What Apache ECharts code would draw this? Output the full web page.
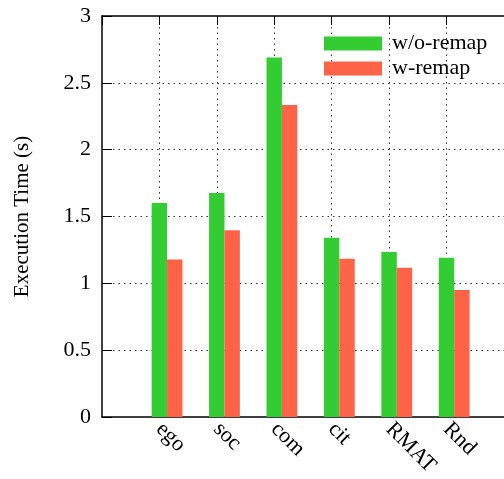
<!DOCTYPE html>
<html><head><meta charset="utf-8">
<script src="https://cdn.jsdelivr.net/npm/echarts@6/dist/echarts.min.js"></script>
<style>html,body{margin:0;padding:0;background:#fff;overflow:hidden;width:504px;height:479px}#c{width:540px;height:479px}</style>
</head><body><div id="c"></div>
<script>
var categories = ['ego', 'soc', 'com', 'cit', 'RMAT', 'Rnd'];
var woRemap = [1.60, 1.675, 2.69, 1.34, 1.233, 1.19];
var wRemap = [1.178, 1.396, 2.334, 1.183, 1.116, 0.95];
var seriesNames = ['w/o-remap', 'w-remap'];
var yTicks = [0, 0.5, 1, 1.5, 2, 2.5, 3];

var FONT = '"Liberation Serif", "DejaVu Serif", serif';
var chart = echarts.init(document.getElementById('c'));
var shift = 0.133;
var XMAX = 7.59;
function pts(arr){ return arr.map(function(v,i){ return [i+1, v]; }); }
chart.setOption({
  animation: false,
  grid: {left: 102, right: 0, top: 16, bottom: 59, containLabel: false},
  legend: {
    orient: 'vertical', left: 319, top: 26, icon: 'rect',
    itemWidth: 58, itemHeight: 14, itemGap: 0,
    textStyle: {fontFamily: FONT, fontSize: 22, lineHeight: 25, color: '#000', padding: [0,0,0,5]},
    data: seriesNames
  },
  xAxis: [
    {type: 'value', min: 0, max: XMAX, interval: 1, position: 'bottom',
     axisLine: {show: true, onZero: false, lineStyle: {color: '#000', width: 1.5}},
     axisTick: {show: false},
     splitLine: {show: true, showMinLine: false, showMaxLine: false, lineStyle: {color: '#333', type: [1.5, 4], width: 1}},
     axisLabel: {rotate: -45, margin: 9, fontFamily: FONT, fontSize: 22, color: '#000',
       formatter: function(v){ return categories[v-1] || ''; }}
    },
    {type: 'value', min: -shift, max: XMAX - shift, show: false},
    {type: 'value', min: 0, max: XMAX, interval: 1, position: 'top',
     axisLine: {show: true, lineStyle: {color: '#000', width: 1.5}},
     axisTick: {show: true, inside: true, length: 9, lineStyle: {color: '#000'}},
     axisLabel: {show: false}, splitLine: {show: false}}
  ],
  yAxis: {
    type: 'value', min: 0, max: 3, interval: 0.5,
    name: 'Execution Time (s)', nameLocation: 'middle', nameGap: 69,
    nameTextStyle: {fontFamily: FONT, fontSize: 21, color: '#000'},
    axisLine: {show: true, lineStyle: {color: '#000', width: 1.5}},
    axisTick: {show: true, inside: true, length: 10, lineStyle: {color: '#000'}},
    splitLine: {show: true, showMinLine: false, showMaxLine: false, lineStyle: {color: '#333', type: [1.5, 4], width: 1}},
    axisLabel: {margin: 11, fontFamily: FONT, fontSize: 22, color: '#000',
      formatter: function(v){ return String(v); }}
  },
  series: [
    {name: seriesNames[0], type: 'bar', xAxisIndex: 1, data: pts(woRemap),
     barWidth: 15.4, barGap: 0, itemStyle: {color: '#33cc33'}},
    {name: seriesNames[1], type: 'bar', xAxisIndex: 1, data: pts(wRemap),
     barWidth: 15.4, barGap: 0, itemStyle: {color: '#ff6347'}}
  ]
});
</script></body></html>
